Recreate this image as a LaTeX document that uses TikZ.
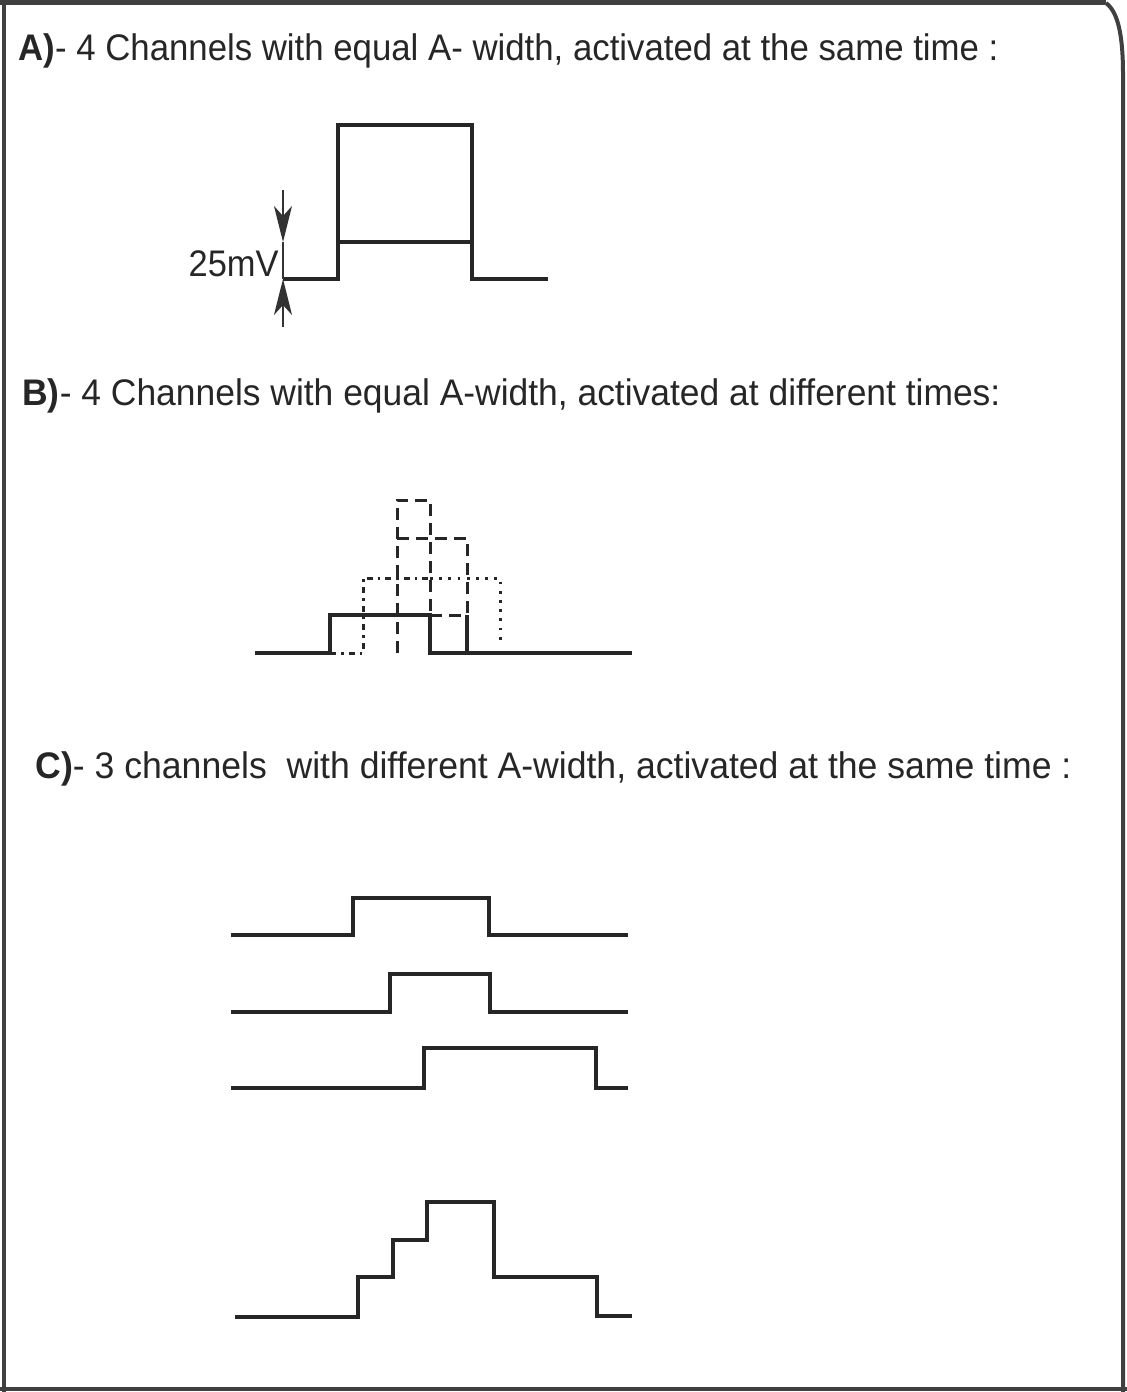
\documentclass[tikz,border=0pt]{standalone}
\usepackage{fontspec}
\usepackage{graphicx}
\setmainfont{Liberation Sans}
\usetikzlibrary{arrows.meta}

% squeeze a title to the printed width, height kept
\newcommand\fitw[2]{\resizebox{#1}{\height}{#2}}

\begin{document}
\begin{tikzpicture}[
                x=0.5pt, y=-0.5pt,
                font=\fontsize{18.5}{22}\selectfont,
                % Styles of the traces
                wave/.style={
                    draw=black!85,
                    line width=1.7pt,
                    line join=miter
                },
                wave dash/.style={
                    wave,
                    line width=1.5pt,
                    dash pattern=on 6pt off 3.5pt
                },
                wave dot/.style={
                    wave,
                    line width=1.5pt,
                    dash pattern=on 1.4pt off 3.2pt
                },
                wave dashdot/.style={
                    wave,
                    line width=1.5pt,
                    dash pattern=on 3pt off 2.5pt on 1.3pt off 2.5pt
                },
                frame line/.style={
                    draw=black!75,
                    line width=2pt
                },
                title/.style={
                    anchor=base west,
                    inner sep=0pt,
                    text=black!85
                },
                dim arrow/.style={
                    draw=black!80,
                    line width=0.9pt,
                    -{Stealth[length=18pt, width=9pt, inset=5pt]}
                }
            ]
                \useasboundingbox (0,0) rectangle (1127,1392);

                % --- PAGE FRAME ---
                \draw[frame line, line width=3pt] (0,2) -- (1106,2);
                \draw[frame line] (4,0) -- (4,1392);
                \draw[frame line] (0,1389) -- (1127,1389);
                \draw[frame line] (1106,3) .. controls (1118,12) and (1123,35) .. (1123,75) -- (1123,1392);

                % --- TITLES ---
                \node[title] (titleA) at (18,61) {\fitw{490pt}{\textbf{A)}- 4 Channels with equal A- width, activated at the same time :}};
                \node[title] (titleB) at (22,405) {\fitw{489pt}{\textbf{B)}- 4 Channels with equal A-width, activated at different times:}};
                \node[title] (titleC) at (35,778) {\fitw{518pt}{\textbf{C)}- 3 channels\ \ with different A-width, activated at the same time :}};

                % --- A) SAME TIME, EQUAL WIDTH ---
                \def\xDim{283}
                \def\yLowA{279}
                \def\yMidA{242}
                \draw[wave] (\xDim,\yLowA) -- (338,\yLowA) -- (338,125) -- (472,125) -- (472,\yLowA) -- (548,\yLowA);
                \draw[wave] (338,\yMidA) -- (472,\yMidA);

                % Step height
                \coordinate (dimtop) at (\xDim,190);
                \coordinate (dimhi) at (\xDim,\yMidA);
                \coordinate (dimlo) at (\xDim,\yLowA);
                \coordinate (dimbot) at (\xDim,327);
                \draw[dim arrow] (dimtop) -- (dimhi);
                \draw[dim arrow] (dimbot) -- (dimlo);
                \draw[draw=black!80, line width=0.9pt] (dimhi) -- (dimlo);
                \node[anchor=base east, inner sep=0pt, text=black!85] (lblmv) at (279,276) {\fitw{45pt}{25mV}};

                % --- B) DIFFERENT TIMES, EQUAL WIDTH ---
                \def\yLowB{653}
                % channel 1
                \draw[wave] (255,\yLowB) -- (330,\yLowB) -- (330,615) -- (430,615) -- (430,\yLowB) -- (632,\yLowB);
                \draw[wave] (467,615) -- (467,\yLowB);
                % channel 2
                \draw[wave dashdot] (330,\yLowB) -- (363,\yLowB) -- (363,578) -- (430,578);
                \draw[wave dot] (430,578) -- (500,578) -- (500,643);
                % channels 3 and 4
                \draw[wave dash] (397,\yLowB) -- (397,500) -- (430,500) -- (430,615);
                \draw[wave dash] (397,538) -- (467,538) -- (467,615);
                \draw[wave dash] (430,615) -- (467,615);

                % --- C) SAME TIME, DIFFERENT WIDTH ---
                \foreach \yLow/\yTop/\xUp/\xDown in {935/898/353/489, 1012/974/390/490, 1088/1048/424/596} {
                    \draw[wave] (231,\yLow) -- (\xUp,\yLow) -- (\xUp,\yTop) -- (\xDown,\yTop) -- (\xDown,\yLow) -- (628,\yLow);
                }

                % Sum of the three channels
                \draw[wave] (235,1317) -- (358,1317) -- (358,1277) -- (393,1277) -- (393,1240) -- (427,1240) -- (427,1202)
                    -- (494,1202) -- (494,1277) -- (597,1277) -- (597,1316) -- (632,1316);

            \end{tikzpicture}
\end{document}
